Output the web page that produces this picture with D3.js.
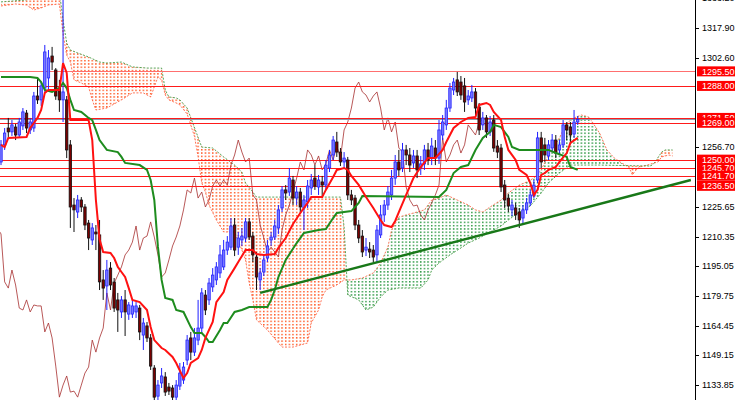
<!DOCTYPE html>
<html><head><meta charset="utf-8">
<script src="https://cdn.jsdelivr.net/npm/d3@7"></script>
<style>html,body{margin:0;padding:0;background:#fff;}svg{display:block;}</style>
</head><body>
<svg id="c" width="735" height="400"></svg>
<script>
const candleOpen = [1248.8,1257.6,1266.3,1264.3,1266.8,1262.7,1267.4,1274.0,1265.3,1266.3,1282.8,1280.8,1286.9,1292.1,1303.4,1296.2,1286.9,1280.8,1280.8,1257.6,1226.6,1223.0,1229.2,1225.6,1217.3,1208.6,1212.7,1211.2,1188.0,1184.9,1194.1,1186.9,1177.7,1171.5,1177.7,1170.4,1170.4,1171.5,1173.5,1159.6,1164.3,1158.1,1142.6,1128.1,1134.9,1138.0,1132.8,1132.3,1127.6,1133.3,1136.4,1146.7,1158.1,1150.8,1157.0,1163.2,1180.2,1177.7,1184.4,1188.0,1191.6,1194.7,1203.4,1204.9,1216.3,1204.9,1208.6,1209.6,1217.9,1210.6,1199.8,1188.0,1192.1,1199.3,1208.6,1210.1,1214.8,1225.1,1234.4,1233.3,1239.5,1230.2,1233.3,1225.1,1228.2,1235.4,1240.5,1235.9,1238.5,1236.9,1245.7,1252.4,1259.1,1253.9,1248.8,1249.8,1231.8,1230.2,1216.3,1210.6,1203.4,1203.9,1203.4,1200.9,1211.2,1221.5,1226.6,1231.8,1240.5,1248.8,1245.7,1255.0,1252.4,1248.3,1251.9,1245.7,1247.8,1255.0,1250.8,1256.0,1250.8,1262.7,1267.9,1276.6,1285.9,1291.1,1290.0,1288.0,1280.8,1281.8,1284.9,1277.1,1267.9,1271.5,1264.3,1270.4,1257.0,1256.0,1236.9,1230.2,1224.1,1225.1,1223.0,1219.9,1224.1,1227.7,1231.3,1239.5,1261.2,1257.6,1251.9,1256.0,1260.1,1255.0,1257.6,1267.9,1266.8,1263.2,1269.4];
const candleHigh = [1260.1,1266.3,1271.5,1270.4,1268.4,1271.5,1276.6,1275.6,1271.5,1284.9,1292.1,1290.0,1309.1,1306.5,1308.1,1297.2,1291.1,1342.6,1282.8,1260.1,1230.2,1231.8,1230.7,1227.1,1218.9,1217.3,1216.3,1218.9,1193.1,1198.3,1197.2,1189.0,1181.3,1179.7,1182.8,1176.6,1177.7,1176.6,1175.1,1168.4,1166.3,1160.1,1144.1,1136.4,1142.6,1140.5,1134.9,1133.8,1136.4,1145.2,1145.7,1159.6,1161.2,1163.2,1177.7,1183.8,1182.8,1189.0,1194.1,1197.2,1206.0,1208.6,1210.6,1219.9,1219.9,1212.7,1214.8,1219.9,1219.9,1212.7,1202.4,1194.1,1200.9,1208.6,1212.7,1218.9,1226.6,1236.4,1236.9,1245.7,1241.6,1236.4,1235.4,1231.8,1239.5,1242.6,1247.2,1242.1,1241.6,1249.8,1255.0,1262.2,1264.3,1256.0,1253.9,1251.4,1234.4,1231.8,1218.9,1213.7,1209.6,1207.5,1206.0,1216.3,1226.6,1229.2,1236.4,1244.7,1252.4,1255.0,1258.6,1257.6,1256.0,1255.0,1255.0,1251.9,1257.6,1258.6,1261.2,1260.1,1270.4,1273.0,1280.8,1289.5,1292.1,1295.2,1293.1,1292.1,1285.9,1288.5,1286.9,1279.2,1274.6,1273.0,1272.5,1273.0,1260.1,1258.1,1239.5,1232.3,1229.2,1227.7,1225.1,1226.6,1230.2,1234.4,1239.5,1264.3,1264.3,1261.2,1260.1,1263.2,1262.7,1260.1,1270.4,1269.4,1269.4,1275.6,1272.5];
const candleLow = [1247.2,1255.0,1261.7,1262.2,1260.1,1261.2,1265.3,1263.7,1263.2,1264.3,1278.7,1277.7,1284.9,1285.9,1296.2,1280.8,1274.6,1269.4,1250.8,1214.8,1212.7,1219.9,1223.0,1213.7,1203.4,1206.0,1203.4,1182.8,1177.7,1172.5,1182.8,1171.5,1161.2,1168.4,1159.1,1167.4,1168.4,1168.4,1157.0,1151.9,1156.0,1141.6,1126.1,1126.1,1132.3,1128.2,1128.7,1126.1,1126.1,1131.3,1134.4,1144.1,1146.7,1148.8,1154.4,1160.6,1169.9,1175.1,1181.8,1185.4,1189.0,1193.1,1200.9,1203.4,1200.3,1200.9,1205.5,1207.5,1208.6,1197.2,1182.8,1182.8,1190.0,1197.2,1205.5,1208.6,1211.7,1223.0,1229.2,1231.3,1226.6,1226.6,1223.0,1213.7,1225.1,1231.8,1234.4,1231.8,1230.2,1234.4,1243.6,1249.8,1251.4,1246.7,1245.7,1229.2,1226.6,1213.7,1207.0,1199.8,1200.3,1199.3,1197.2,1197.2,1209.6,1217.9,1224.1,1229.2,1237.0,1241.6,1243.6,1247.2,1243.6,1245.7,1240.5,1242.1,1244.7,1247.2,1247.2,1247.2,1247.8,1260.1,1265.3,1274.6,1283.3,1282.8,1280.8,1274.6,1278.2,1279.7,1273.0,1262.7,1265.3,1261.2,1262.2,1254.0,1250.8,1233.3,1225.1,1223.0,1220.9,1218.9,1214.8,1216.8,1222.0,1226.1,1230.2,1238.0,1245.7,1248.8,1249.8,1253.9,1250.8,1252.4,1256.0,1260.1,1259.1,1261.2,1267.9];
const candleClose = [1257.6,1263.7,1264.3,1267.9,1262.7,1269.4,1274.6,1266.3,1269.4,1282.8,1280.8,1288.0,1305.5,1302.4,1300.3,1282.8,1280.8,1284.9,1255.0,1225.6,1224.1,1229.2,1225.6,1216.3,1209.6,1214.8,1211.7,1187.0,1183.8,1193.1,1185.4,1173.5,1172.5,1177.7,1171.5,1175.1,1174.6,1174.6,1161.2,1165.8,1158.1,1143.6,1127.6,1133.8,1138.5,1130.2,1130.7,1127.6,1133.8,1140.0,1143.1,1157.0,1150.8,1158.1,1163.2,1181.3,1172.5,1186.4,1190.5,1194.7,1200.9,1203.4,1207.5,1215.8,1203.4,1209.6,1210.6,1217.9,1210.1,1200.9,1189.5,1191.6,1198.3,1205.5,1210.1,1215.8,1224.1,1234.4,1232.8,1240.5,1230.2,1233.3,1225.6,1229.2,1236.4,1239.5,1236.4,1239.5,1236.9,1247.2,1252.4,1260.1,1253.9,1248.8,1250.8,1231.8,1229.2,1216.3,1209.6,1202.4,1204.9,1202.4,1199.8,1213.7,1221.5,1226.6,1233.3,1240.5,1248.8,1244.7,1255.0,1252.4,1247.2,1251.9,1244.7,1247.8,1255.0,1249.8,1257.0,1250.8,1265.3,1269.4,1276.6,1286.9,1290.0,1284.9,1283.3,1279.7,1282.8,1284.9,1276.6,1265.3,1271.5,1264.3,1269.4,1256.0,1253.9,1235.9,1229.2,1226.1,1226.6,1221.5,1218.9,1224.1,1227.7,1231.8,1236.9,1261.2,1248.8,1252.4,1257.6,1260.1,1253.4,1257.6,1267.9,1265.3,1262.7,1269.4,1270.7];

const tenkan = [[0,1257.6],[1,1256.5],[2,1261.2],[7,1261.7],[8,1266.3],[9,1268.9],[10,1271.5],[11,1275.6],[12,1284.4],[13,1285.9],[16,1285.9],[17,1299.8],[18,1294.7],[19,1270.4],[24,1270.4],[25,1260.1],[26,1229.2],[27,1209.0],[28,1202.4],[30,1201.9],[31,1199.3],[32,1194.7],[33,1192.1],[34,1189.5],[35,1183.8],[36,1177.7],[38,1176.6],[40,1172.5],[41,1163.7],[42,1157.0],[44,1152.9],[45,1151.9],[47,1148.3],[48,1145.2],[50,1137.4],[51,1140.0],[52,1145.2],[54,1147.7],[55,1151.9],[56,1158.1],[58,1166.3],[59,1176.6],[61,1181.8],[62,1188.0],[64,1194.1],[65,1197.2],[67,1203.4],[69,1203.4],[70,1201.4],[72,1200.9],[75,1201.4],[76,1204.5],[78,1209.6],[80,1216.8],[82,1222.5],[84,1227.7],[85,1230.7],[88,1230.7],[89,1234.4],[91,1241.1],[92,1244.7],[94,1245.7],[95,1244.7],[96,1241.6],[98,1237.0],[100,1230.7],[102,1225.1],[104,1218.9],[105,1216.3],[107,1215.3],[108,1218.4],[109,1223.0],[111,1231.8],[113,1240.5],[115,1246.2],[117,1250.8],[119,1250.8],[121,1255.0],[122,1259.1],[124,1266.3],[126,1269.4],[128,1271.5],[130,1272.0],[131,1278.2],[133,1279.2],[134,1278.2],[135,1274.6],[137,1270.4],[138,1261.7],[139,1255.0],[141,1249.8],[142,1244.7],[144,1242.1],[145,1238.0],[146,1231.8],[147,1234.4],[148,1242.1],[149,1243.1],[150,1244.7],[152,1246.2],[153,1248.8],[155,1253.4],[156,1258.6],[158,1261.2]];

const kijun = [[0,1292.6],[8,1292.6],[10,1292.1],[11,1290.0],[12,1285.9],[14,1284.9],[16,1286.9],[17,1289.5],[18,1286.9],[19,1280.8],[20,1275.6],[22,1274.6],[24,1271.5],[25,1270.4],[26,1265.3],[27,1260.1],[29,1255.0],[32,1253.9],[33,1251.4],[34,1248.3],[38,1247.2],[40,1244.7],[41,1239.5],[42,1229.2],[43,1205.0],[44,1188.0],[45,1178.7],[47,1177.7],[48,1172.5],[50,1171.5],[52,1163.7],[53,1160.6],[55,1160.6],[56,1158.6],[57,1156.0],[58,1156.0],[60,1162.2],[61,1165.8],[62,1165.8],[64,1171.5],[66,1172.5],[68,1174.0],[73,1174.0],[74,1177.7],[75,1182.8],[76,1189.5],[78,1198.3],[81,1207.0],[83,1212.2],[87,1213.7],[89,1214.2],[91,1219.9],[92,1222.5],[96,1223.5],[98,1227.7],[99,1231.3],[120,1230.7],[122,1234.4],[124,1243.1],[126,1246.2],[128,1247.2],[130,1255.0],[132,1261.2],[134,1264.3],[135,1267.9],[137,1266.8],[139,1261.7],[140,1256.5],[142,1255.0],[150,1255.0],[152,1253.4],[155,1251.4],[156,1246.2],[158,1244.7]];

const senkouA = [[0,1329.2],[4,1330.2],[7,1329.7],[9,1327.1],[11,1328.2],[13,1329.7],[16,1330.2],[17,1314.8],[18,1303.9],[19,1300.3],[20,1291.1],[22,1289.5],[24,1287.5],[25,1280.8],[26,1275.6],[29,1276.6],[33,1280.8],[36,1284.4],[39,1284.4],[41,1282.3],[42,1287.5],[43,1292.6],[44,1291.1],[45,1283.3],[46,1280.8],[48,1279.2],[49,1278.2],[51,1273.5],[53,1262.0],[54,1251.4],[55,1238.0],[56,1233.3],[57,1226.6],[59,1218.9],[61,1212.7],[64,1212.7],[66,1203.4],[67,1198.3],[68,1186.4],[69,1177.7],[70,1167.4],[73,1162.2],[76,1155.5],[77,1153.4],[80,1153.4],[84,1155.5],[85,1165.8],[87,1172.5],[88,1179.2],[89,1182.8],[92,1185.4],[94,1188.0],[96,1188.0],[99,1189.0],[102,1191.6],[104,1196.7],[106,1205.0],[107,1213.7],[109,1220.4],[111,1221.5],[113,1222.5],[116,1224.1],[118,1229.2],[120,1230.2],[122,1231.8],[125,1229.2],[128,1226.6],[130,1224.1],[132,1223.0],[134,1225.6],[137,1229.2],[139,1232.8],[142,1236.9],[144,1238.5],[146,1240.5],[148,1244.7],[150,1252.4],[153,1261.2],[155,1268.9],[157,1271.5],[159,1273.0],[161,1272.0],[162,1269.4],[164,1263.7],[166,1255.0],[168,1250.9],[170,1248.3],[172,1246.2],[173,1242.1],[174,1244.7],[175,1246.2],[177,1247.2],[179,1248.3],[180,1248.8],[181,1251.4],[183,1252.4],[184,1251.9]];

const senkouB = [[0,1331.3],[7,1332.3],[8,1336.4],[16,1336.4],[17,1322.0],[18,1310.1],[19,1306.5],[21,1305.0],[24,1302.9],[27,1300.3],[29,1299.8],[33,1300.3],[36,1297.8],[40,1297.2],[44,1297.2],[45,1285.9],[46,1282.3],[48,1281.8],[49,1280.8],[51,1276.6],[55,1256.5],[58,1256.0],[61,1251.4],[64,1247.2],[66,1243.6],[67,1238.0],[69,1233.3],[70,1230.7],[93,1230.7],[94,1215.3],[95,1180.2],[98,1177.7],[100,1172.5],[102,1174.0],[104,1179.2],[106,1182.8],[109,1183.8],[115,1183.8],[117,1188.0],[118,1193.1],[120,1196.7],[123,1200.9],[126,1204.5],[128,1207.0],[131,1209.6],[134,1212.7],[137,1215.8],[139,1218.9],[142,1223.0],[145,1226.1],[148,1232.8],[150,1238.0],[153,1243.1],[156,1247.2],[164,1247.2],[178,1246.7],[179,1248.3],[181,1253.9],[182,1255.0],[184,1255.0]];

const chikouShift = 26;
const trendLine = [[71,1181.3],[189,1239.5]];
const levelPrices = [1295.50, 1288.00, 1271.50, 1269.00, 1245.70, 1250.00, 1241.70, 1236.50];
const levelLabels = ["1295.50","1288.00","1271.50","1269.00","1245.70","1250.00","1241.70","1236.50"];
const bidPrice = 1270.7;
const tickValues = [1333.20,1317.90,1302.60,1256.70,1225.65,1210.35,1195.05,1179.75,1164.45,1149.15,1133.85];
const tickLabels = ["1333.20","1317.90","1302.60","1256.70","1225.65","1210.35","1195.05","1179.75","1164.45","1149.15","1133.85"];

const W = 735, H = 400, plotR = 695;
const x = d3.scaleLinear().domain([0, 158]).range([1, 577.7]);
const y = d3.scaleLinear().domain([1133.85, 1317.90]).range([385, 27.9]);
const svg = d3.select("#c");
const defs = svg.append("defs");
defs.append("clipPath").attr("id","plot").append("rect").attr("x",0).attr("y",0).attr("width",plotR).attr("height",H);

function pattern(id, color){
  const p = defs.append("pattern").attr("id",id).attr("patternUnits","userSpaceOnUse")
    .attr("width", x(1)-x(0)).attr("height",3.3).attr("x", x(0)-0.75).attr("y",0.5);
  p.append("rect").attr("width",1.5).attr("height",1.5).attr("fill",color);
}
pattern("dotO","#ff5a26");
pattern("dotG","#2f9a45");

const below = d3.area().x(d=>x(d[0])).y0(d=>y(d[1])).y1(H+50);
const above = d3.area().x(d=>x(d[0])).y0(-50).y1(d=>y(d[1]));
defs.append("clipPath").attr("id","belowA").append("path").attr("d", below(senkouA));
defs.append("clipPath").attr("id","aboveA").append("path").attr("d", above(senkouA));
defs.append("clipPath").attr("id","belowB").append("path").attr("d", below(senkouB));
defs.append("clipPath").attr("id","aboveB").append("path").attr("d", above(senkouB));

const plot = svg.append("g").attr("clip-path","url(#plot)");

// Kumo cloud: green where A above B, orange where B above A
plot.append("g").attr("clip-path","url(#belowA)").append("g").attr("clip-path","url(#aboveB)")
  .append("rect").attr("x",0).attr("y",0).attr("width",plotR).attr("height",H).attr("fill","url(#dotG)");
plot.append("g").attr("clip-path","url(#belowB)").append("g").attr("clip-path","url(#aboveA)")
  .append("rect").attr("x",0).attr("y",0).attr("width",plotR).attr("height",H).attr("fill","url(#dotO)");

const line = d3.line().x(d=>x(d[0])).y(d=>y(d[1]));
plot.append("path").attr("d", line(senkouA)).attr("fill","none").attr("stroke","#ff5533")
  .attr("stroke-width",1).attr("stroke-dasharray","2,1.5").attr("opacity",0.8);
plot.append("path").attr("d", line(senkouB)).attr("fill","none").attr("stroke","#2f8f2f")
  .attr("stroke-width",1).attr("stroke-dasharray","2,1.5").attr("opacity",0.8);

// Chikou span: closes drawn 26 bars back
const chikou = candleClose.map((c,i)=>[i-chikouShift, c]);
plot.append("path").attr("d", line(chikou)).attr("fill","none").attr("stroke","#a83030")
  .attr("stroke-width",1).attr("opacity",0.8);

// horizontal levels
plot.selectAll("line.lvl").data(levelPrices).join("line").attr("class","lvl")
  .attr("x1",0).attr("x2",plotR).attr("y1",d=>Math.round(y(d))+0.5).attr("y2",d=>Math.round(y(d))+0.5)
  .attr("stroke",(d,i)=> i===0 ? "#ff6f6f" : "#ff1a1a").attr("stroke-width",1);
plot.append("line").attr("x1",0).attr("x2",plotR).attr("y1",Math.round(y(bidPrice))+0.5).attr("y2",Math.round(y(bidPrice))+0.5)
  .attr("stroke","#8899aa").attr("stroke-width",1);

// candles
const idx = d3.range(candleOpen.length);
const bull = i => candleClose[i] >= candleOpen[i];
plot.append("g").selectAll("line").data(idx).join("line")
  .attr("x1",i=>x(i)).attr("x2",i=>x(i))
  .attr("y1",i=>y(candleHigh[i])).attr("y2",i=>y(candleLow[i]))
  .attr("stroke",i=>bull(i)?"#1f1fff":"#111").attr("stroke-width",1);
plot.append("g").selectAll("rect").data(idx).join("rect")
  .attr("x",i=>x(i)-1.2).attr("width",2.4)
  .attr("y",i=>y(Math.max(candleOpen[i],candleClose[i])))
  .attr("height",i=>Math.max(0.8, Math.abs(y(candleOpen[i])-y(candleClose[i]))))
  .attr("fill",i=>bull(i)?"#7878ff":"#7a0000")
  .attr("stroke",i=>bull(i)?"#2424ff":"#111").attr("stroke-width",0.8);

// Tenkan / Kijun
plot.append("path").attr("d", line(kijun)).attr("fill","none").attr("stroke","#1e8c1e").attr("stroke-width",2);
plot.append("path").attr("d", line(tenkan)).attr("fill","none").attr("stroke","#ff1111").attr("stroke-width",2);
// trend line
plot.append("path").attr("d", line(trendLine)).attr("fill","none").attr("stroke","#187818").attr("stroke-width",2.4);

// price axis
svg.append("line").attr("x1",plotR+0.5).attr("x2",plotR+0.5).attr("y1",0).attr("y2",H).attr("stroke","#000");
const ax = svg.append("g");
ax.selectAll("line").data(tickValues).join("line")
  .attr("x1",plotR).attr("x2",plotR+4).attr("y1",d=>Math.round(y(d))+0.5).attr("y2",d=>Math.round(y(d))+0.5).attr("stroke","#000");
ax.selectAll("text").data(tickValues).join("text")
  .attr("x",plotR+7).attr("y",d=>y(d)).attr("dy","0.35em")
  .attr("font-family","Liberation Sans, Arial, sans-serif").attr("font-size",9).attr("fill","#000")
  .text((d,i)=>tickLabels[i]);

// level labels
const lg = svg.append("g");
levelPrices.forEach((p,i)=>{
  const yy = y(p);
  lg.append("rect").attr("x",plotR+2).attr("y",yy-5).attr("width",W-plotR-2).attr("height",10).attr("fill","#ff0000");
  lg.append("text").attr("x",plotR+7).attr("y",yy).attr("dy","0.35em")
    .attr("font-family","Liberation Sans, Arial, sans-serif").attr("font-size",9).attr("fill","#fff").text(levelLabels[i]);
});
</script>
</body></html>
